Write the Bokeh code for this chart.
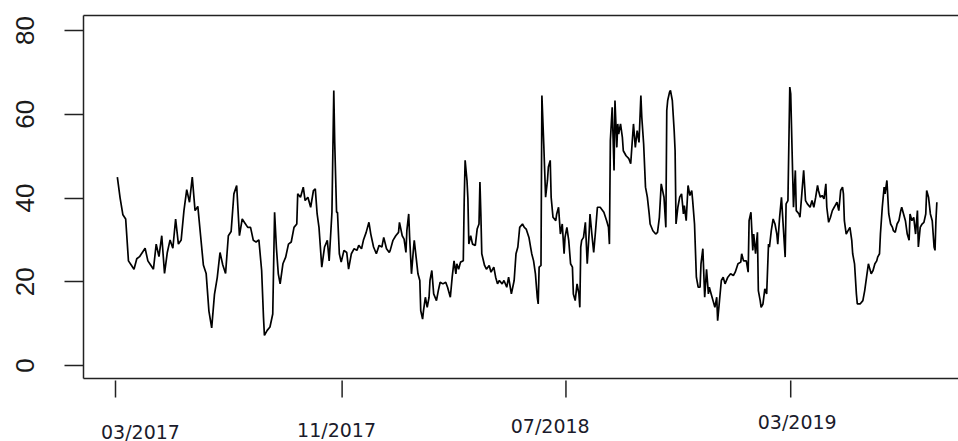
import pandas as pd
from bokeh.plotting import figure
from bokeh.layouts import column
from bokeh.models import Range1d, FixedTicker, LinearAxis
from bokeh.core.properties import value
from bokeh.embed import file_html
from bokeh.resources import INLINE

start_date = "2017-03-01"

days = [2, 5, 8, 11, 14, 17, 20, 23, 26, 29, 32, 35, 38, 41, 44, 47, 50, 53, 56, 59, 62, 65, 68, 71,
        74, 77, 80, 83, 86, 89, 92, 95, 98, 101, 104, 107, 110, 113, 116, 119, 122, 125, 128, 131, 134, 137, 140, 143,
        146, 149, 152, 155, 158, 160, 161, 164, 167, 170, 172, 174, 176, 178, 181, 184, 187, 190, 193, 196, 197, 200,
        203, 205, 208, 211, 214, 216, 218, 220, 222, 223, 226, 229, 231, 234, 236, 237, 239, 240, 242, 244, 247, 250,
        252, 255, 258, 261, 263, 266, 268, 271, 274, 276, 279, 282, 285, 288, 290, 293, 296,
        297, 300, 303, 306, 307, 310, 312, 314, 315, 317, 318, 320, 322, 323, 325, 327, 329, 330, 332, 333, 335, 337,
        339, 340, 342, 344, 347, 349, 351, 354, 357, 359, 362, 364, 366, 368, 369, 371, 373, 376, 377, 378, 380, 381,
        382, 384, 386, 389, 391, 393, 394, 395, 396, 399, 401, 404, 406, 409, 411, 413, 415, 418, 420, 423, 425, 428,
        431, 433, 435, 437, 440, 442, 444, 447,
        449, 450, 452, 454, 456, 457, 458, 460, 461, 463, 465, 467, 468, 470, 471, 473, 476, 477, 479, 481, 483, 485,
        486, 488, 490, 492, 494, 495, 497, 499, 501, 502, 503, 504, 506, 508, 510, 512, 513, 515, 517, 519, 521, 524,
        528, 531, 533, 534, 535, 537, 539, 540, 542, 543, 544, 546, 548, 549, 552, 555, 557, 560, 562, 564, 566, 568,
        569, 571, 573, 575, 577, 578, 581, 584, 586, 588, 590, 593, 595, 596, 597, 599,
        600, 602, 604, 605, 606, 608, 610, 612, 614, 615, 617, 619, 621, 623, 624, 626, 628, 630, 632, 633, 635, 637,
        639, 641, 642, 644, 646, 648, 650, 651, 653, 655, 657, 659, 662, 665, 668, 670, 673, 676, 677, 679, 682, 684,
        685, 687, 689, 690, 692, 694, 695, 697, 698, 700, 702, 704, 706, 707, 709, 711, 713, 715, 716, 718, 720, 722,
        724, 725, 727, 729, 730, 732, 733, 735, 736, 739, 740, 742, 744, 746, 748, 751,
        753, 755, 757, 759, 760, 762, 764, 766, 768, 769, 771, 773, 775, 777, 778, 780, 782, 784, 786, 787, 788, 790,
        792, 794, 796, 797, 799, 801, 802, 805, 808, 810, 812, 814, 815, 817, 819, 821, 823, 824, 826, 827, 829, 831,
        832, 834, 836, 838, 840, 841, 843, 845, 847, 849, 850, 852, 854, 856, 858, 859, 861, 863, 865, 867, 868, 870,
        872, 874, 876, 877, 879, 881, 883, 885, 886, 887, 888]

values = [45, 40, 36, 35, 25, 24, 23, 25.5, 26, 27, 28, 25, 24, 23, 29, 26, 31, 22, 27, 30, 28, 35, 29, 30,
          37, 42, 39, 45, 37, 38, 31, 24, 22, 13, 9, 17, 21, 27, 24, 22, 31, 32, 41, 43, 31, 35, 34, 33,
          33, 29.9, 29.5, 30, 22.7, 11.5, 7.2, 8.4, 9.2, 12.3, 36.6, 28, 21.9, 19.5, 24.3, 25.9, 29, 29.5, 33, 33.8, 41, 40.2,
          42.6, 39.4, 40.2, 37.8, 41.8, 42.2, 36.2, 33, 26.7, 23.5, 28.3, 29.9, 25, 36.6, 65.7, 53.3, 36.6, 36.6, 26.7, 24.7, 27.5, 27,
          23, 26.7, 27.9, 27.5, 28.7, 27.9, 29.9, 31.8, 34.2, 31.4, 28.3, 26.7, 28.7, 28.3, 30.6, 27.9, 27,
          27.5, 29.9, 31, 31.8, 34.2, 31, 30.2, 27, 32.2, 36.2, 30.6, 21.9, 27.5, 29.9, 25.9, 21.9, 20.3, 13.1, 11.1, 13.1, 16.3, 13.9,
          16.3, 20.3, 22.7, 17.1, 15.5, 17.9, 19.9, 19.5, 19.9, 18.7, 16.3, 21.1, 25, 21.9, 24.3, 23, 24.7, 25, 39.4, 49, 44.2, 39.8,
          29, 31, 29, 28.7, 32.6, 33.8, 43.8, 36.2, 26.7, 23.9, 23, 23.9, 22.3, 23.5, 21.1, 19.5, 20.3, 19.5, 20.3, 18.7, 21.1, 17.1,
          20.3, 26.7, 28.3, 33, 33.8, 33, 32.6, 30.6,
          28, 26.7, 25, 21.9, 16.3, 14.7, 23.5, 23.9, 64.5, 52.9, 40.2, 44.2, 47.4, 49, 40.2, 35.4, 34.6, 36.2, 37.8, 31.4, 33.8, 26.7,
          30.6, 33, 29.9, 24.3, 23.5, 17.1, 15.5, 19.5, 17.1, 13.9, 28.3, 29.9, 30.6, 34.2, 24.3, 31.4, 36.2, 31.4, 27, 32.2, 37.8, 37.8,
          36.6, 34.6, 33, 29, 53.7, 61.7, 46.6, 63.3, 52.1, 57.7, 55.3, 57.7, 54.5, 51.3, 50.1, 49.4, 48.2, 57.7, 52.1, 56.1, 53.3, 64.5,
          59.3, 52.9, 42.6, 40.2, 36.2, 33.8, 32.2, 31.4, 31.8, 35.4, 43.4, 40.2, 33, 60.9, 63.3, 65.3,
          65.7, 63.3, 56.1, 51.3, 33.8, 37.8, 40.2, 41, 36.2, 38.2, 34.6, 43, 40.6, 41.8, 39.4, 33.8, 21.1, 18.7, 18.7, 24.3, 27.9, 16.3,
          23, 17.1, 18.7, 17.1, 15.5, 13.9, 16.3, 10.7, 15.5, 20.3, 21.1, 19.5, 21.1, 21.9, 21.5, 22.3, 24.3, 24.7, 26.7, 25, 25, 22.3,
          34.6, 36.6, 27.5, 31.4, 26.7, 31.8, 17.9, 15.5, 13.9, 14.7, 18.3, 17.1, 29, 28.3, 32.2, 35, 33.8, 31.4, 29, 35.4, 40.2, 33,
          25.9, 38.6, 39.4, 66.5, 64.9, 46.6, 37.8, 46.6, 37, 36.2, 35.4, 41, 46.6, 39.4, 38.6, 37.8,
          39.4, 37.8, 40.2, 43, 41.8, 40.2, 40.6, 39.8, 43.4, 37.8, 34.2, 35.4, 37, 37.8, 38.2, 39, 37, 41.8, 42.6, 41, 34.6, 31.4,
          32.2, 33, 29.9, 26.7, 24.3, 17.1, 14.7, 14.7, 15.5, 17.9, 21.1, 24.3, 23.5, 21.9, 22.7, 24.3, 25, 25.9, 26.7, 31.4, 37.8, 42.6,
          41, 44.2, 36.2, 33.8, 33, 32.2, 31.8, 33.8, 34.6, 37, 37.8, 36.2, 34.6, 31.4, 29.9, 36.2, 34.6, 35.4, 31.4, 37, 28.3, 33,
          33.8, 34.2, 36.2, 41.8, 40.2, 36.2, 34.6, 28.3, 27.5, 34.6, 39]

tick_dates = ["2017-03-01", "2017-11-01", "2018-07-01", "2019-03-01"]
tick_labels = ["03/2017", "11/2017", "07/2018", "03/2019"]
y_ticks = [0, 20, 40, 60, 80]


def ms(ts):
    return ts.value / 1e6


t0 = pd.Timestamp(start_date)
x = [t0 + pd.Timedelta(days=d) for d in days]
tick_ms = [ms(pd.Timestamp(d)) for d in tick_dates]

AX = "#222222"

x_range = Range1d(ms(t0 - pd.Timedelta(days=34.6)), ms(t0 + pd.Timedelta(days=911.4)))

p = figure(width=958, height=380, x_axis_type="datetime",
           output_backend="svg", toolbar_location=None,
           x_range=x_range, y_range=Range1d(-3.1, 83.6),
           min_border_left=83, min_border_right=0, min_border_top=15, min_border_bottom=2)

p.line(x, values, line_color="black", line_width=1.7)

p.outline_line_color = None
p.xgrid.visible = False
p.ygrid.visible = False

# bottom box edge (ticks and labels are drawn in the strip below)
xa = p.xaxis[0]
xa.ticker = FixedTicker(ticks=[])
xa.minor_tick_line_color = None
xa.major_tick_line_color = None
xa.major_label_standoff = 0
xa.axis_line_width = 1.5
xa.axis_line_color = AX

ya = p.yaxis[0]
ya.ticker = FixedTicker(ticks=y_ticks)
ya.major_tick_out = 19
ya.major_tick_in = 0
ya.minor_tick_line_color = None
ya.axis_line_width = 1.5
ya.major_tick_line_width = 1.5
ya.axis_line_color = AX
ya.major_tick_line_color = AX
ya.major_label_orientation = "vertical"
ya.major_label_text_font = "Liberation Sans"
ya.major_label_text_font_size = "26px"
ya.major_label_text_color = "#1a1a1a"
ya.major_label_standoff = 30

# top border of the box
top = LinearAxis(ticker=FixedTicker(ticks=[]), major_tick_line_color=None, minor_tick_line_color=None,
                 major_label_standoff=0, axis_line_width=1.5, axis_line_color=AX)
p.add_layout(top, "above")

# strip below the plot: date ticks and staggered date labels
strip = figure(width=958, height=61, output_backend="svg", toolbar_location=None,
               x_range=x_range, y_range=Range1d(61, 0),
               x_axis_location=None, y_axis_location=None,
               min_border_left=83, min_border_right=0, min_border_top=0, min_border_bottom=0)
strip.outline_line_color = None
strip.xgrid.visible = False
strip.ygrid.visible = False

strip.segment(x0=tick_ms, y0=[-2] * len(tick_ms), x1=tick_ms, y1=[17] * len(tick_ms),
              line_color=AX, line_width=1.5)

label_offsets = [27, -6, -17, 7]     # days, horizontal shift of each label
label_rows = [51, 49, 45, 41]         # vertical position in the strip
label_x = [ms(pd.Timestamp(d) + pd.Timedelta(days=o)) for d, o in zip(tick_dates, label_offsets)]
strip.text(x=label_x, y=label_rows, text=tick_labels,
           text_align="center", text_baseline="middle",
           text_font=value("DejaVu Sans"), text_font_size=value("19px"),
           text_color="#1b1b2b")

layout = column(p, strip, spacing=0)

open("out.html", "w").write(file_html(layout, INLINE))
